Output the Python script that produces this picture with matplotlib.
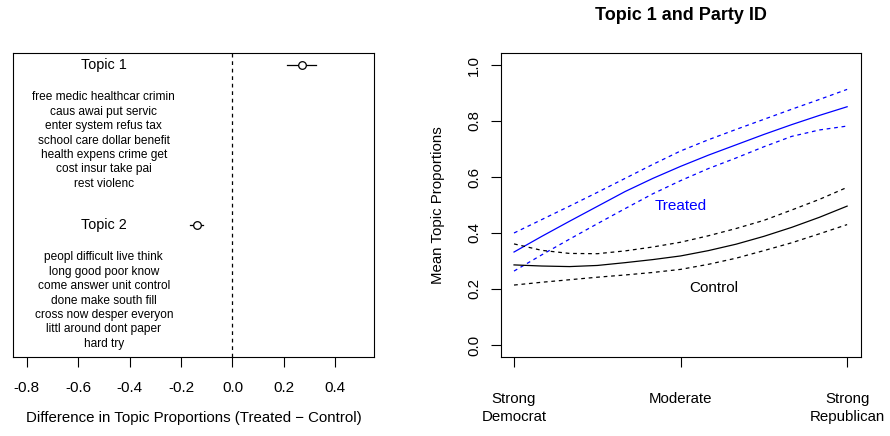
import matplotlib.pyplot as plt

plt.rcParams['font.family'] = ['Liberation Sans', 'DejaVu Sans']

# left panel: difference in topic proportions
topics = ['Topic 1', 'Topic 2']
topic_words = [
    ['free medic healthcar crimin', 'caus awai put servic', 'enter system refus tax',
     'school care dollar benefit', 'health expens crime get', 'cost insur take pai',
     'rest violenc'],
    ['peopl difficult live think', 'long good poor know', 'come answer unit control',
     'done make south fill', 'cross now desper everyon', 'littl around dont paper',
     'hard try'],
]
effect = [0.269, -0.138]
ci_low = [0.213, -0.165]
ci_high = [0.323, -0.115]
diff_ticks = [-0.8, -0.6, -0.4, -0.2, 0.0, 0.2, 0.4]

# right panel: topic 1 vs party id
party_x = [1, 1.5, 2, 2.5, 3, 3.5, 4, 4.5, 5, 5.5, 6, 6.5, 7]
party_ticks = [1, 4, 7]
party_labels = ['Strong\nDemocrat', 'Moderate', 'Strong\nRepublican']
treated_mean = [0.332, 0.388, 0.442, 0.495, 0.548, 0.595, 0.638, 0.678, 0.715, 0.752, 0.787, 0.820, 0.851]
treated_hi = [0.400, 0.448, 0.496, 0.545, 0.595, 0.645, 0.693, 0.733, 0.770, 0.806, 0.842, 0.877, 0.913]
treated_lo = [0.264, 0.322, 0.378, 0.433, 0.487, 0.540, 0.587, 0.630, 0.668, 0.708, 0.745, 0.768, 0.782]
control_mean = [0.286, 0.282, 0.280, 0.284, 0.294, 0.305, 0.318, 0.337, 0.360, 0.388, 0.420, 0.456, 0.496]
control_hi = [0.361, 0.338, 0.327, 0.326, 0.336, 0.350, 0.367, 0.390, 0.416, 0.445, 0.482, 0.520, 0.563]
control_lo = [0.214, 0.224, 0.233, 0.242, 0.250, 0.259, 0.270, 0.288, 0.310, 0.337, 0.365, 0.397, 0.430]
y_ticks = [0.0, 0.2, 0.4, 0.6, 0.8, 1.0]

fig = plt.figure(figsize=(8.9, 4.36), dpi=100)
W, H = 890, 436
bot, top = 1 - 357 / H, 1 - 53 / H
ax1 = fig.add_axes([13 / W, bot, (374 - 13) / W, top - bot])
ax2 = fig.add_axes([500.7 / W, bot, (861 - 500.7) / W, top - bot])

for ax in (ax1, ax2):
    for s in ax.spines.values():
        s.set_linewidth(0.8)
    ax.tick_params(direction='out', length=7.2, width=0.8, labelsize=11)

# ---- left
ax1.set_xlim(-0.853, 0.55)
ax1.set_ylim(1.828, -0.072)
ax1.axvline(0, color='black', lw=0.9, dashes=(3, 3))
for i, t in enumerate(topics):
    ax1.plot([ci_low[i], ci_high[i]], [i, i], color='black', lw=0.9)
    ax1.plot(effect[i], i, 'o', ms=5.5, mfc='white', mec='black', mew=0.9)
    ax1.text(-0.5, i, t, ha='center', va='center', fontsize=10.4)
    for j, w in enumerate(topic_words[i]):
        ax1.text(-0.5, i + 0.205 + j * 0.09, w, ha='center', va='center', fontsize=8.6)
ax1.set_xticks(diff_ticks)
ax1.set_xticklabels(['%.1f' % v if v != 0 else '0.0' for v in diff_ticks])
ax1.set_yticks([])
ax1.tick_params(axis='x', pad=10)
fig.text(193.5 / W, 1 - 418 / H, 'Difference in Topic Proportions (Treated \u2212 Control)',
         ha='center', va='center', fontsize=10.8)

# ---- right
ax2.set_xlim(0.76, 7.25)
ax2.set_ylim(-0.043, 1.043)
ax2.plot(party_x, treated_mean, color='blue', lw=0.9)
ax2.plot(party_x, treated_hi, color='blue', lw=0.9, dashes=(3, 3))
ax2.plot(party_x, treated_lo, color='blue', lw=0.9, dashes=(3, 3))
ax2.plot(party_x, control_mean, color='black', lw=0.9)
ax2.plot(party_x, control_hi, color='black', lw=0.9, dashes=(3, 3))
ax2.plot(party_x, control_lo, color='black', lw=0.9, dashes=(3, 3))
ax2.text(4.0, 0.497, 'Treated', color='blue', ha='center', va='center', fontsize=11)
ax2.text(4.6, 0.204, 'Control', color='black', ha='center', va='center', fontsize=11)
ax2.set_xticks(party_ticks)
ax2.set_xticklabels(party_labels, linespacing=1.35, fontsize=10.8)
ax2.tick_params(axis='x', pad=18)
ax2.set_yticks(y_ticks)
ax2.set_yticklabels(['%.1f' % v for v in y_ticks], rotation=90, va='center', fontsize=10.8)
ax2.tick_params(axis='y', pad=7)
fig.text(438 / W, 1 - 205 / H, 'Mean Topic Proportions', rotation=90,
         ha='center', va='center', fontsize=10.8)
fig.text((500.7 + 861) / 2 / W, 1 - 15 / H, 'Topic 1 and Party ID',
         ha='center', va='center', fontsize=13, fontweight='bold')

fig.savefig('out.png', dpi=100)
